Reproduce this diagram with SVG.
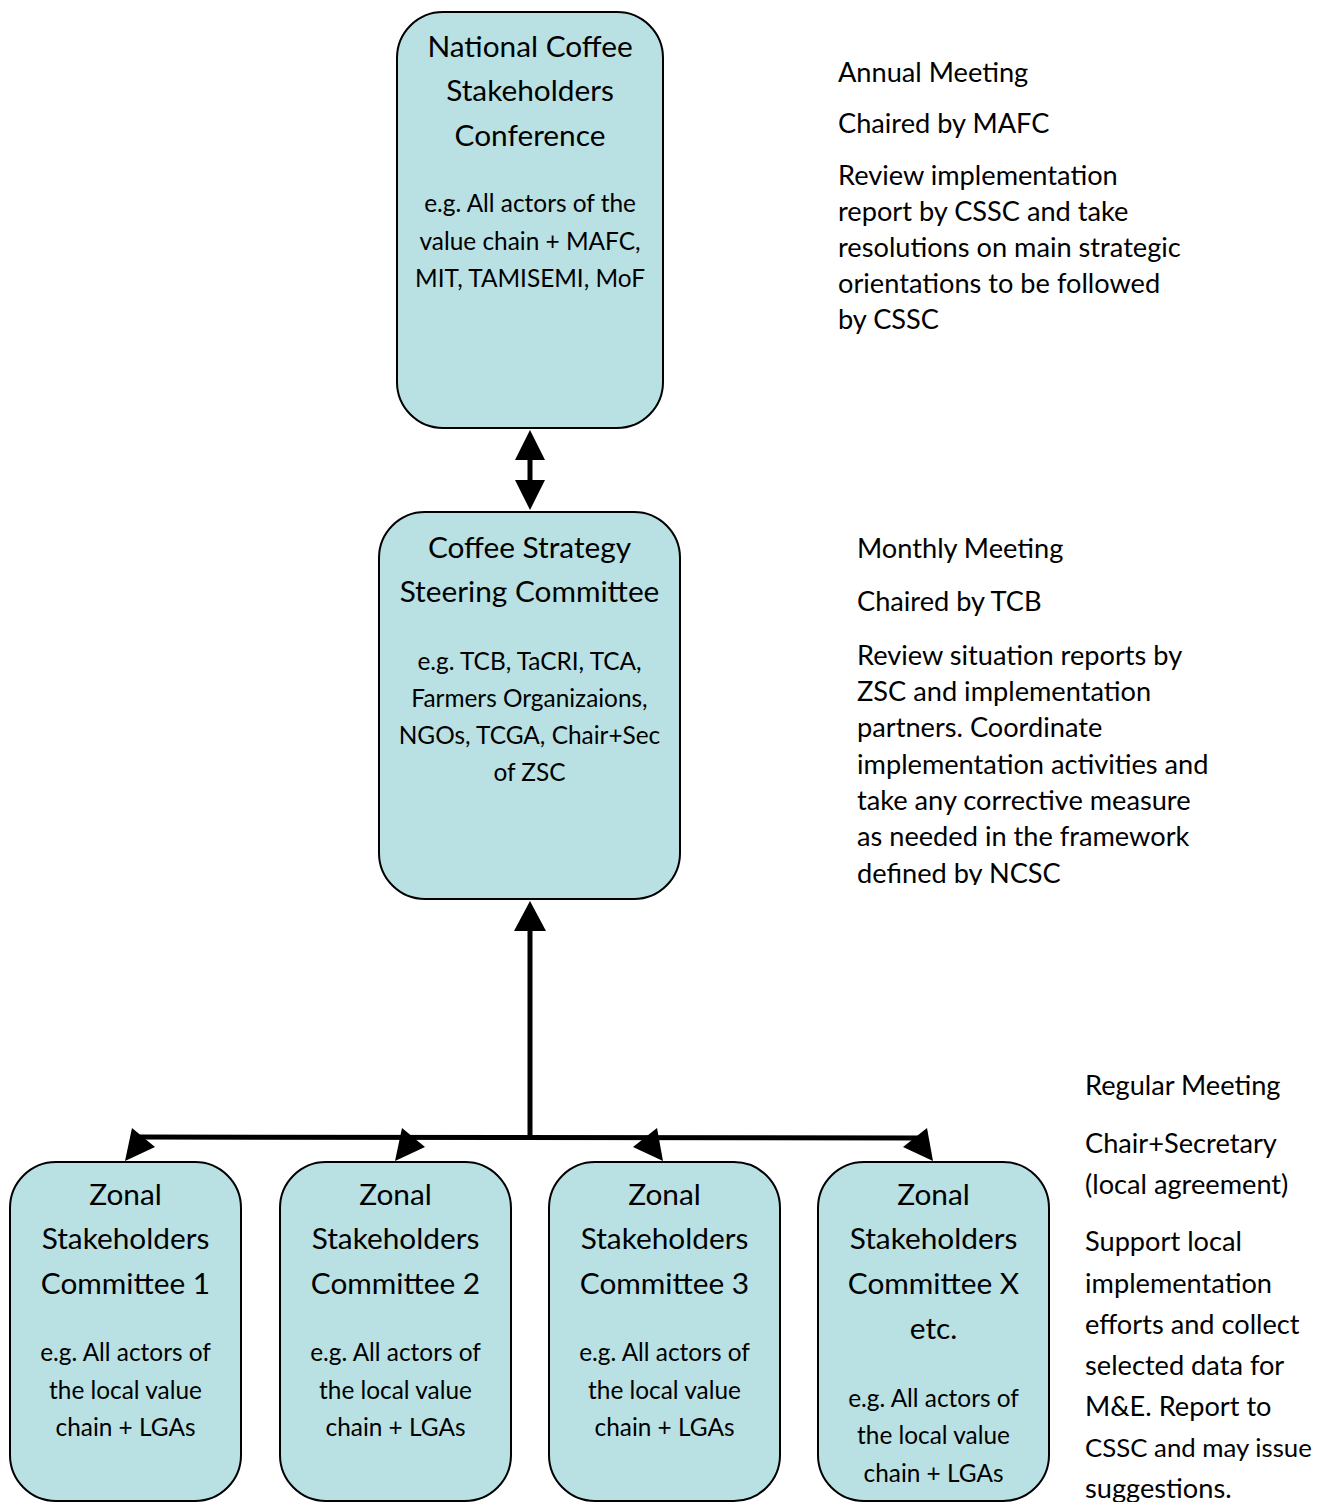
<svg xmlns="http://www.w3.org/2000/svg" width="1320" height="1502" viewBox="0 0 1320 1502">
<style>
.box{fill:#b9e0e3;stroke:#000;stroke-width:2}
text{font-family:Lato,"Open Sans","Liberation Sans",sans-serif;fill:#000}
.t{font-size:29.8px;text-anchor:middle}
.b{font-size:24.4px;text-anchor:middle}
.s{font-size:27.2px}
.line{stroke:#000;stroke-width:5;fill:none}
.head{fill:#000}
</style>
<defs>
<clipPath id="clip2"><rect x="840" y="520" width="480" height="365"/></clipPath>
</defs>
<g id="connectors">
<line class="line" x1="530" y1="455" x2="530" y2="485"/>
<polygon class="head" points="530,430 545,460 515,460"/>
<polygon class="head" points="530,510 545,480 515,480"/>
<line class="line" x1="530" y1="925" x2="530" y2="1139"/>
<polygon class="head" points="530,901 546,931 514,931"/>
<line class="line" x1="140" y1="1137" x2="922" y2="1138"/>
<polygon class="head" points="125,1161 132,1128 155,1147"/>
<polygon class="head" points="395,1161 402,1128 425,1147"/>
<polygon class="head" points="663,1161 657,1128 633,1147"/>
<polygon class="head" points="933,1161 927,1128 903,1147"/>
</g>
<g id="ncsc">
<rect class="box" x="397" y="12" width="266" height="416" rx="46"/>
<text class="t" x="530" y="57">National Coffee</text>
<text class="t" x="530" y="101">Stakeholders</text>
<text class="t" x="530" y="146">Conference</text>
<text class="b" x="530" y="212">e.g. All actors of the</text>
<text class="b" x="530" y="250">value chain + MAFC,</text>
<text class="b" x="530" y="287">MIT, TAMISEMI, MoF</text>
</g>
<g id="ncsc-notes">
<text class="s" x="838" y="82">Annual Meeting</text>
<text class="s" x="838" y="133">Chaired by MAFC</text>
<text class="s" x="838" y="185">Review implementation</text>
<text class="s" x="838" y="221">report by CSSC and take</text>
<text class="s" x="838" y="257">resolutions on main strategic</text>
<text class="s" x="838" y="293">orientations to be followed</text>
<text class="s" x="838" y="329">by CSSC</text>
</g>
<g id="cssc">
<rect class="box" x="379" y="512" width="301" height="387" rx="46"/>
<text class="t" x="529.5" y="558">Coffee Strategy</text>
<text class="t" x="529.5" y="602">Steering Committee</text>
<text class="b" x="529.5" y="670">e.g. TCB, TaCRI, TCA,</text>
<text class="b" x="529.5" y="707">Farmers Organizaions,</text>
<text class="b" x="529.5" y="744">NGOs, TCGA, Chair+Sec</text>
<text class="b" x="529.5" y="781">of ZSC</text>
</g>
<g id="cssc-notes" clip-path="url(#clip2)">
<text class="s" x="857" y="558">Monthly Meeting</text>
<text class="s" x="857" y="611">Chaired by TCB</text>
<text class="s" x="857" y="665">Review situation reports by</text>
<text class="s" x="857" y="701">ZSC and implementation</text>
<text class="s" x="857" y="737">partners. Coordinate</text>
<text class="s" x="857" y="774">implementation activities and</text>
<text class="s" x="857" y="810">take any corrective measure</text>
<text class="s" x="857" y="846">as needed in the framework</text>
<text class="s" x="857" y="883">defined by NCSC</text>
</g>
<g id="zsc1">
<rect class="box" x="10" y="1162" width="231" height="339" rx="46"/>
<text class="t" x="125.5" y="1205">Zonal</text>
<text class="t" x="125.5" y="1249">Stakeholders</text>
<text class="t" x="125.5" y="1294">Committee 1</text>
<text class="b" x="125.5" y="1361">e.g. All actors of</text>
<text class="b" x="125.5" y="1399">the local value</text>
<text class="b" x="125.5" y="1436">chain + LGAs</text>
</g>
<g id="zsc2">
<rect class="box" x="280" y="1162" width="231" height="339" rx="46"/>
<text class="t" x="395.5" y="1205">Zonal</text>
<text class="t" x="395.5" y="1249">Stakeholders</text>
<text class="t" x="395.5" y="1294">Committee 2</text>
<text class="b" x="395.5" y="1361">e.g. All actors of</text>
<text class="b" x="395.5" y="1399">the local value</text>
<text class="b" x="395.5" y="1436">chain + LGAs</text>
</g>
<g id="zsc3">
<rect class="box" x="549" y="1162" width="231" height="339" rx="46"/>
<text class="t" x="664.5" y="1205">Zonal</text>
<text class="t" x="664.5" y="1249">Stakeholders</text>
<text class="t" x="664.5" y="1294">Committee 3</text>
<text class="b" x="664.5" y="1361">e.g. All actors of</text>
<text class="b" x="664.5" y="1399">the local value</text>
<text class="b" x="664.5" y="1436">chain + LGAs</text>
</g>
<g id="zscx">
<rect class="box" x="818" y="1162" width="231" height="339" rx="46"/>
<text class="t" x="933.5" y="1205">Zonal</text>
<text class="t" x="933.5" y="1249">Stakeholders</text>
<text class="t" x="933.5" y="1294">Committee X</text>
<text class="t" x="933.5" y="1339">etc.</text>
<text class="b" x="933.5" y="1407">e.g. All actors of</text>
<text class="b" x="933.5" y="1444">the local value</text>
<text class="b" x="933.5" y="1482">chain + LGAs</text>
</g>
<g id="zsc-notes">
<text class="s" x="1085" y="1095">Regular Meeting</text>
<text class="s" x="1085" y="1153">Chair+Secretary</text>
<text class="s" x="1085" y="1194">(local agreement)</text>
<text class="s" x="1085" y="1251">Support local</text>
<text class="s" x="1085" y="1293">implementation</text>
<text class="s" x="1085" y="1334">efforts and collect</text>
<text class="s" x="1085" y="1375">selected data for</text>
<text class="s" x="1085" y="1416">M&amp;E. Report to</text>
<text class="s" x="1085" y="1457" style="font-size:25.8px">CSSC and may issue</text>
<text class="s" x="1085" y="1498">suggestions.</text>
</g>
</svg>
